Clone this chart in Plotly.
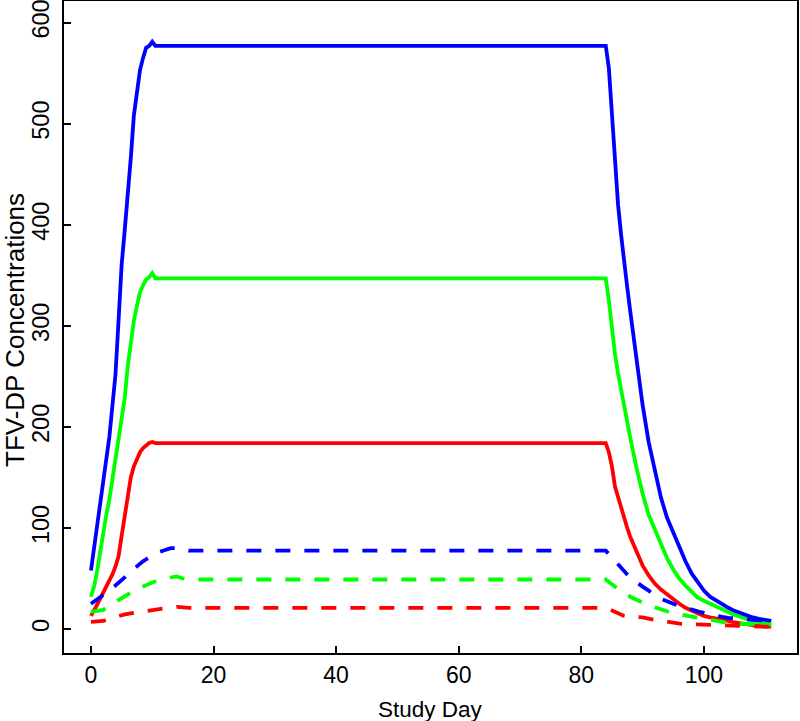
import plotly.graph_objects as go

days = [0, 0.5, 1, 1.5, 2, 2.5, 3, 3.5, 4, 4.5, 5, 5.5, 6, 6.5, 7, 7.5, 8, 8.5, 9, 9.5, 10, 10.5,
        11, 12, 13, 14, 15, 16,
        84, 84.5, 85, 85.5, 86, 86.5, 87, 87.5, 88,
        89, 90, 91, 92, 93, 94, 95, 96, 97, 98, 99, 100, 101, 102, 103, 104, 105, 106, 107, 108, 109, 110, 111]

blue_solid = [58, 80, 101, 121, 141, 162, 190, 221, 252, 305, 360, 394, 428, 466, 508, 532, 553, 565, 575, 577, 581, 577,
              577, 577, 577, 577, 577, 577,
              577, 555, 505, 462, 420, 390, 360, 338, 314,
              266, 222, 185, 157, 130, 110, 95, 80, 67, 55, 46, 38, 32, 28, 24, 21, 18, 15.5, 13.5, 11.5, 10, 9, 8]

green_solid = [32, 42, 57, 77, 97, 113, 128, 147, 167, 190, 208, 228, 260, 285, 305, 320, 333, 340, 346, 348, 352, 347,
               347, 347, 347, 347, 347, 347,
               347, 325, 295, 272, 253, 236, 218, 203, 189,
               160, 134, 113, 98, 83, 70, 59, 50, 43, 37, 31, 28, 25, 22, 19, 16, 14, 12, 9.5, 8, 6.5, 5.5, 4.6]

red_solid = [13, 18, 24, 30, 36, 41, 47, 54, 62, 72, 92, 112, 134, 150, 161, 169, 175, 179, 182, 184, 185, 184,
             184, 184, 184, 184, 184, 184,
             184, 175, 161, 141, 130, 120, 110, 100, 91,
             76, 63, 53, 45, 39, 34, 29, 25, 21, 18, 15, 13, 11.5, 10.5, 9, 8, 6.5, 5.5, 4.5, 4, 3, 2.5, 2.3]

blue_dashed = [25, 27, 29, 31, 33, 35.5, 38, 40.5, 43, 45.5, 48, 50.5, 53, 56, 59, 62, 65, 67, 69, 71, 73, 74.5,
               76, 78, 80, 80, 79, 77.5,
               77.5, 74, 71, 67.5, 64, 60.5, 57, 54, 51,
               46, 42, 38, 33, 30, 27, 25, 23, 21, 19, 17.5, 16, 14.5, 13, 12, 11, 10.5, 10, 9.5, 9, 8.5, 8, 8]

green_dashed = [17, 17.5, 18, 18.5, 19, 21, 23, 25, 27, 29, 31, 32.5, 34, 36, 38, 39.5, 41, 42.5, 44, 45, 46, 47,
                48, 49, 51, 52, 50, 49,
                49, 46.5, 44, 41.5, 39.5, 37.5, 35.5, 33.5, 32,
                29, 26, 23.5, 21.5, 19.5, 17, 15.5, 14.5, 13.5, 12.5, 11, 10, 9, 8, 7, 5.5, 5, 5, 5, 5, 4.8, 4.6, 4.5]

red_dashed = [7, 7.2, 7.5, 7.8, 8, 9, 10, 11, 12, 13, 14, 14.5, 15, 15.5, 16, 16.5, 17, 17.5, 18, 18.5, 19, 19.5,
              20, 20.5, 21, 22, 21.5, 21,
              21, 19.5, 18, 16.5, 15, 14, 13, 12.5, 12,
              11.8, 11.5, 10, 9, 8.2, 7, 5.8, 5.3, 5, 4.8, 4.4, 4, 3.6, 3.2, 3, 2.8, 2.5, 2.4, 2.3, 2.3, 2.3, 2.3, 2.3]

x_ticks = [0, 20, 40, 60, 80, 100]
y_ticks = [0, 100, 200, 300, 400, 500, 600]
x_title = "Study Day"
y_title = "TFV-DP Concentrations"

series = [
    (red_solid, "#FF0000", "solid"),
    (green_solid, "#00FF00", "solid"),
    (blue_solid, "#0000FF", "solid"),
    (red_dashed, "#FF0000", "15px,14px"),
    (green_dashed, "#00FF00", "15px,14px"),
    (blue_dashed, "#0000FF", "15px,14px"),
]

fig = go.Figure()
for vals, col, dash in series:
    fig.add_trace(go.Scatter(x=days, y=vals, mode="lines",
                             line=dict(color=col, width=3.8, dash=dash),
                             showlegend=False, hoverinfo="skip"))

fam = "Liberation Sans, Arial, sans-serif"
fig.update_layout(
    width=800, height=721,
    margin=dict(l=64, r=3, t=1, b=68, autoexpand=False),
    paper_bgcolor="white", plot_bgcolor="white",
    font=dict(family=fam, size=22, color="black"),
    showlegend=False,
)
fig.update_xaxes(range=[-4.4, 115.2], tickvals=x_ticks, ticktext=[str(v) for v in x_ticks],
                 ticks="inside", ticklen=7, tickwidth=2, tickcolor="black",
                 tickfont=dict(family=fam, size=23, color="black"), ticklabeloverflow="allow",
                 showline=True, linecolor="black", linewidth=2, mirror=True,
                 showgrid=False, zeroline=False, automargin=False)
fig.update_yaxes(range=[-23.7, 621.3], tickvals=y_ticks, ticktext=[str(v) for v in y_ticks],
                 ticks="inside", ticklen=7, tickwidth=2, tickcolor="black", tickangle=-90,
                 tickfont=dict(family=fam, size=23.5, color="black"), ticklabelstandoff=4,
                 ticklabeloverflow="allow",
                 showline=True, linecolor="black", linewidth=2, mirror=True,
                 showgrid=False, zeroline=False, automargin=False)

fig.add_annotation(text=x_title, xref="paper", yref="paper", x=0.5, y=0,
                   xanchor="center", yanchor="middle", yshift=-56, showarrow=False,
                   font=dict(family=fam, size=22.5, color="black"))
fig.add_annotation(text=y_title, xref="paper", yref="paper", x=0, y=0.5,
                   xanchor="center", yanchor="middle", xshift=-49, yshift=-3, textangle=-90,
                   showarrow=False, font=dict(family=fam, size=26, color="black"))

fig.write_html("out.html", config={"displayModeBar": False},
               post_script="document.body.style.margin='0';document.body.style.padding='0';document.body.style.overflow='hidden';")
